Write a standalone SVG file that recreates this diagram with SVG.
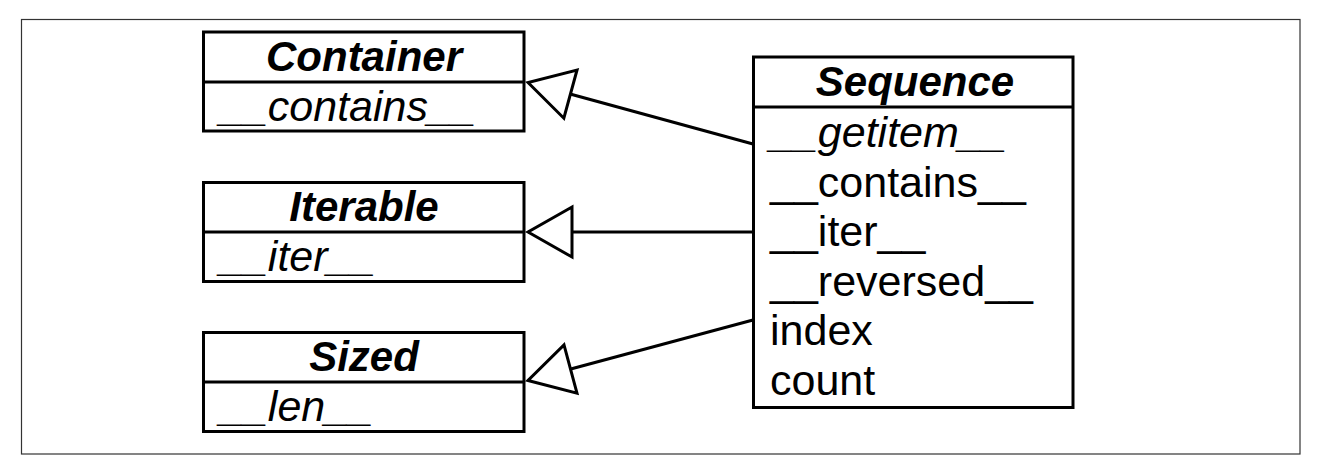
<svg xmlns="http://www.w3.org/2000/svg" width="1324" height="472" viewBox="0 0 1324 472">
<defs>
<style>
.frame{fill:#fff;stroke:#333;stroke-width:1.2}
.box{fill:#fff;stroke:#000;stroke-width:3}
.div{stroke:#000;stroke-width:3}
.edge{stroke:#000;stroke-width:3;fill:none}
text{font-family:"Liberation Sans",Arial,Helvetica,sans-serif;font-size:43px;fill:#000}
.title{font-size:42px;font-weight:bold;font-style:italic;text-anchor:middle}
.ital{font-style:italic}
</style>
<marker id="tri" markerUnits="userSpaceOnUse" viewBox="-50 -30 54 60" markerWidth="54" markerHeight="60" refX="0" refY="0" orient="auto" overflow="visible">
<path d="M0,0 L-44,-25 L-44,25 Z" fill="#fff" stroke="#000" stroke-width="3" stroke-linejoin="miter"/>
</marker>
</defs>
<rect width="1324" height="472" fill="#fff"/>
<rect class="frame" x="21.5" y="19.5" width="1278.5" height="434.5"/>
<g id="edges">
<line class="edge" x1="753" y1="144" x2="528" y2="82.5" marker-end="url(#tri)"/>
<line class="edge" x1="753" y1="232" x2="528" y2="232" marker-end="url(#tri)"/>
<line class="edge" x1="753" y1="320" x2="528" y2="380.5" marker-end="url(#tri)"/>
</g>
<g id="container">
<rect class="box" x="203.5" y="32" width="320.5" height="99"/>
<line class="div" x1="203.5" y1="82" x2="524" y2="82"/>
<text class="title" x="364" y="70.5">Container</text>
<text class="ital" x="220" y="121">__contains__</text>
</g>
<g id="iterable">
<rect class="box" x="203.5" y="182.5" width="320.5" height="99"/>
<line class="div" x1="203.5" y1="232" x2="524" y2="232"/>
<text class="title" x="364" y="220.5">Iterable</text>
<text class="ital" x="220" y="271">__iter__</text>
</g>
<g id="sized">
<rect class="box" x="203.5" y="332.5" width="320.5" height="99"/>
<line class="div" x1="203.5" y1="382" x2="524" y2="382"/>
<text class="title" x="364" y="370.5">Sized</text>
<text class="ital" x="220" y="421">__len__</text>
</g>
<g id="sequence">
<rect class="box" x="753.5" y="57" width="319.5" height="350.5"/>
<line class="div" x1="753.5" y1="107" x2="1073" y2="107"/>
<text class="title" x="915" y="95.5">Sequence</text>
<text class="ital" x="770" y="147">__getitem__</text>
<text x="770" y="196.5">__contains__</text>
<text x="770" y="246">__iter__</text>
<text x="770" y="295.5">__reversed__</text>
<text x="770" y="345">index</text>
<text x="770" y="394.5">count</text>
</g>
</svg>
